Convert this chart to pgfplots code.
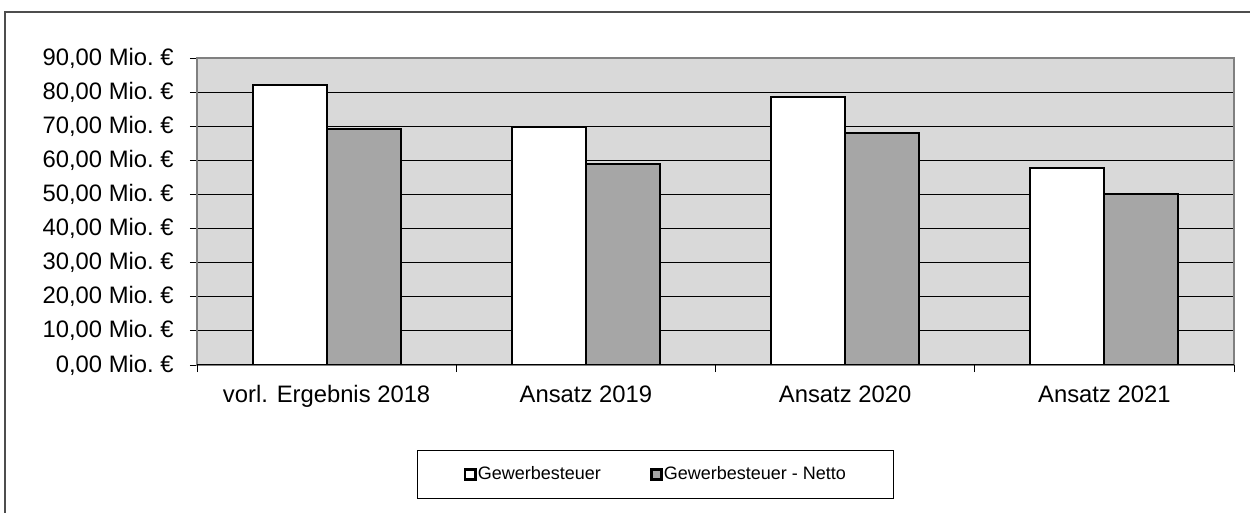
\documentclass[border=0pt]{standalone}
\usepackage{pgfplots}
\pgfplotsset{compat=1.18}
\usepackage{fontspec}
\setmainfont{Liberation Sans}
\definecolor{bgc}{HTML}{D9D9D9}
\definecolor{barg}{HTML}{A6A6A6}
\definecolor{frm}{HTML}{808080}
\begin{document}
\begin{tikzpicture}
\useasboundingbox (0,0) rectangle (625bp,256.5bp);
\draw[color=frm!60!black, line width=0.6bp] (2.5bp,-1bp) -- (2.5bp,250.5bp) -- (626bp,250.5bp);
\begin{axis}[
  at={(98.5bp,74bp)}, anchor=south west,
  scale only axis, width=518.5bp, height=153.5bp,
  ymin=0, ymax=90, ytick={0,10,...,90},
  xmin=-0.5, xmax=3.5,
  xtick={0,1,2,3},
  xticklabels={vorl. Ergebnis 2018, Ansatz 2019, Ansatz 2020, Ansatz 2021},
  x tick style={draw=none},
  extra x ticks={-0.5,0.5,1.5,2.5,3.5},
  extra x tick labels={},
  extra x tick style={x tick style={draw=black, line width=0.5bp}, major tick length=3.5bp, tick align=outside, grid=none},
  xtick pos=bottom, ytick pos=left,
  tick align=outside, major tick length=3.5bp,
  y tick style={black, line width=0.5bp},
  /pgf/number format/assume math mode=true,
  yticklabel={\pgfmathprintnumber[fixed,fixed zerofill,precision=2,use comma]{\tick}~Mio.~€},
  ticklabel style={font=\fontsize{11.9bp}{13bp}\selectfont},
  yticklabel style={anchor=east, inner sep=0pt, xshift=-8bp},
  xticklabel style={anchor=base, inner sep=0pt, yshift=-15bp},
  ymajorgrids, major grid style={black, line width=0.5bp},
  axis background/.style={fill=bgc},
  axis line style={frm, line width=1bp},
  ybar=0pt, bar width=0.285,
  legend columns=2,
  legend image code/.code={\draw[#1, line width=1.3bp] (0.5bp,-2.6bp) rectangle (5.7bp,2.6bp);},
  legend style={at={(0.4421,-0.3567)}, anchor=center, draw=black, line width=0.5bp,
    font=\fontsize{9bp}{10bp}\selectfont, inner xsep=23bp, inner ysep=8bp,
    nodes={inner xsep=0.5bp, inner ysep=0pt},
    /tikz/every even column/.append style={column sep=24bp}},
]
\addplot[fill=white, draw=black, line width=1bp] coordinates {(0,82.1) (1,69.9) (2,78.5) (3,57.8)};
\addplot[fill=barg, draw=black, line width=1bp] coordinates {(0,69.2) (1,58.8) (2,67.9) (3,50.1)};
\legend{Gewerbesteuer, Gewerbesteuer - Netto}
\draw[black, line width=0.6bp] (rel axis cs:0,0) -- (rel axis cs:1,0);
\end{axis}
\end{tikzpicture}
\end{document}
